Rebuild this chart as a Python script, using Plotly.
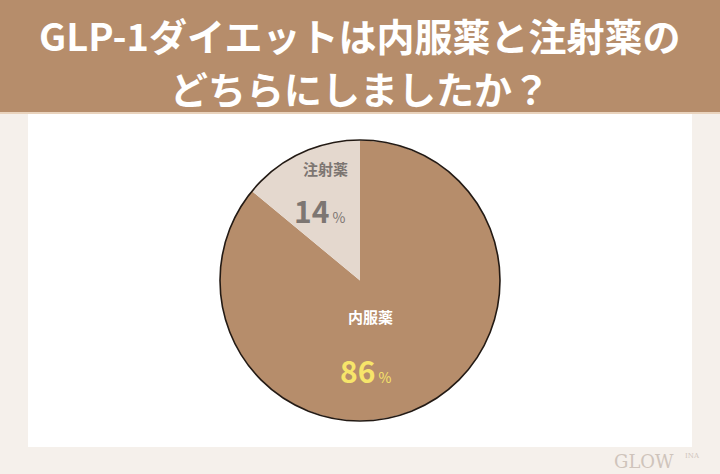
import plotly.graph_objects as go

# ---- data ----
labels = ["内服薬", "注射薬"]
values = [86, 14]
slice_colors = ["#b68d6b", "#e4d8ce"]
title_lines = ["GLP-1ダイエットは内服薬と注射薬の", "どちらにしましたか？"]

W, H = 720, 474

def px(x):
    return x / W

def py(y):
    return 1 - y / H

fig = go.Figure()

fig.add_trace(go.Pie(
    labels=labels,
    values=values,
    sort=False,
    direction="clockwise",
    rotation=0,
    marker=dict(colors=slice_colors, line=dict(color="#2a1f18", width=0)),
    textinfo="none",
    hoverinfo="label+percent",
    showlegend=False,
    domain=dict(x=[px(220), px(500)], y=[py(421), py(140)]),
))

shapes = [
    # white panel
    dict(type="rect", xref="paper", yref="paper", x0=px(28), x1=px(692), y0=py(447), y1=py(112),
         fillcolor="#ffffff", line=dict(width=0), layer="below"),
    # title band
    dict(type="rect", xref="paper", yref="paper", x0=0, x1=1, y0=py(112), y1=1,
         fillcolor="#b68d6b", line=dict(width=0), layer="below"),
    dict(type="rect", xref="paper", yref="paper", x0=0, x1=1, y0=py(114), y1=py(112),
         fillcolor="#e9d3bd", line=dict(width=0), layer="below"),
    # pie outline
    dict(type="circle", xref="paper", yref="paper", x0=px(220), x1=px(500), y0=py(421), y1=py(140),
         fillcolor="rgba(0,0,0,0)", line=dict(color="#231a14", width=1.6), layer="above"),
]

font_jp = "Noto Sans CJK JP"

def ann(x, y, text, size, color, family=font_jp):
    return dict(x=px(x), y=py(y), text=text, showarrow=False, xanchor="center", yanchor="middle",
                font=dict(family=family, size=size, color=color), xref="paper", yref="paper")

annotations = [
    ann(360, 34, "<b>" + title_lines[0] + "</b>", 38, "#ffffff"),
    ann(360, 88, "<b>" + title_lines[1] + "</b>", 38, "#ffffff"),
    # 注射薬 labels
    ann(325, 168, "<b>" + labels[1] + "</b>", 15, "#7d7672"),
    ann(320, 210, "<b>%d</b><span style='font-size:14px'> %%</span>" % values[1], 30, "#7d7672"),
    # 内服薬 labels
    ann(371, 316, "<b>" + labels[0] + "</b>", 15, "#ffffff"),
    ann(366, 370, "<b>%d</b><span style='font-size:14px'> %%</span>" % values[0], 30, "#f7e56a"),
    # logo
    ann(644, 461, "GLOW", 18, "#cfc4bb", "DejaVu Serif"),
    ann(692, 456, "INA", 7, "#cfc4bb", "DejaVu Serif"),
]

fig.update_layout(
    width=W, height=H,
    margin=dict(l=0, r=0, t=0, b=0),
    paper_bgcolor="#f5f0eb",
    plot_bgcolor="#f5f0eb",
    shapes=shapes,
    annotations=annotations,
)

fig.write_html("out.html", config={"displayModeBar": False},
               post_script="document.body.style.margin='0';document.body.style.overflow='hidden';")
